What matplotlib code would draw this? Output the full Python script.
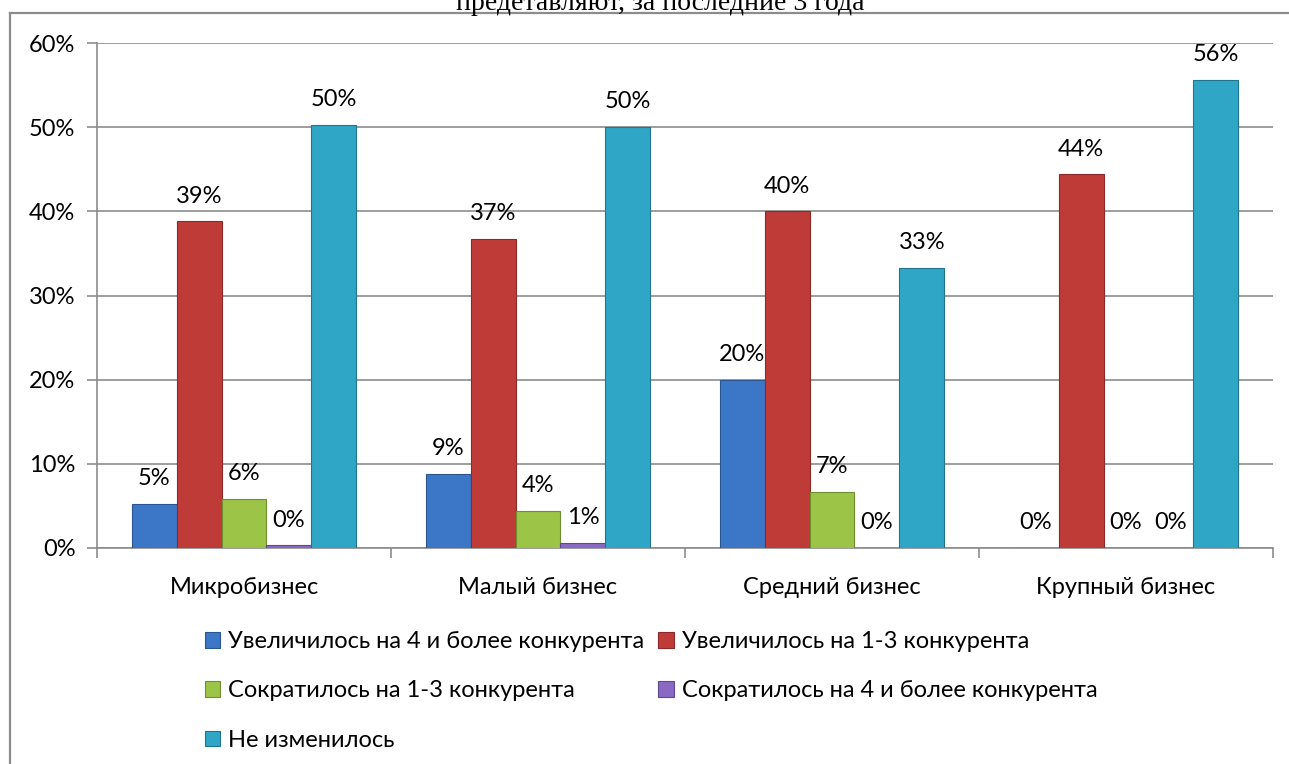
import matplotlib
matplotlib.use("Agg")
import matplotlib.pyplot as plt
import numpy as np
from matplotlib.patches import Rectangle
from matplotlib.lines import Line2D
from matplotlib.ticker import FuncFormatter, FixedLocator

categories = ["Микробизнес", "Малый бизнес", "Средний бизнес", "Крупный бизнес"]
series_names = [
    "Увеличилось на 4 и более конкурента",
    "Увеличилось на 1-3 конкурента",
    "Сократилось на 1-3 конкурента",
    "Сократилось на 4 и более конкурента",
    "Не изменилось",
]
inc4 = [5.2, 8.8, 20.0, 0.0]
inc13 = [38.8, 36.7, 40.0, 44.4]
dec13 = [5.8, 4.4, 6.7, 0.0]
dec4 = [0.3, 0.6, 0.0, 0.0]
nochange = [50.3, 50.0, 33.3, 55.6]
series_values = [inc4, inc13, dec13, dec4, nochange]
colors = ["#3C76C6", "#BF3B38", "#9CC547", "#8A69C4", "#2FA6C6"]
edges = ["#2A5590", "#8A2A28", "#6E8E30", "#5E4890", "#1F7590"]
title_text = "предетавляют, за последние 3 года"

plt.rcParams['font.family'] = ['Lato', 'DejaVu Sans']
FS = 17

fig = plt.figure(figsize=(12.89, 7.64), dpi=100)
W, H = 1289, 764
ax = fig.add_axes([97 / W, 1 - 548 / H, (1273 - 97) / W, (548 - 43) / H])

x = np.arange(len(categories))
bw = 0.153
n = len(series_values)
for i, (vals, c, ec) in enumerate(zip(series_values, colors, edges)):
    pos = x + (i - (n - 1) / 2) * bw
    bars = ax.bar(pos, vals, width=bw, color=c, edgecolor=ec, linewidth=0.8, zorder=3)
    for b, v in zip(bars, vals):
        ax.annotate(f"{round(v):.0f}%", (b.get_x() + b.get_width() / 2, v),
                    xytext=(0, 13.5), textcoords="offset points",
                    ha="center", va="baseline", fontsize=FS, color="black", zorder=4)

ax.set_xlim(-0.5, len(categories) - 0.5)
ax.set_ylim(0, 60)
ax.set_yticks(np.arange(0, 61, 10))
ax.yaxis.set_major_formatter(FuncFormatter(lambda v, p: f"{v:.0f}%"))
ax.grid(axis="y", color="#8c8c8c", linewidth=1.2, zorder=0)
ax.set_xticks(x)
ax.set_xticklabels(categories, fontsize=FS)
ax.xaxis.set_minor_locator(FixedLocator(np.arange(-0.5, len(categories), 1.0)))
ax.tick_params(axis="x", which="major", length=0, pad=21)
ax.tick_params(axis="x", which="minor", length=7, width=1.2, color="#8c8c8c", direction="out")
ax.tick_params(axis="y", length=7, width=1.2, color="#8c8c8c", pad=8.5, labelsize=FS)
for s in ["top", "right"]:
    ax.spines[s].set_visible(False)
for s in ["left", "bottom"]:
    ax.spines[s].set_color("#8c8c8c")
    ax.spines[s].set_linewidth(1.2)

# outer chart frame (partially visible)
fig.add_artist(Line2D([10 / W, 10 / W], [0, 1 - 13 / H], transform=fig.transFigure,
                      color="#8c8c8c", linewidth=1.6))
fig.add_artist(Line2D([10 / W, 1], [1 - 13 / H, 1 - 13 / H], transform=fig.transFigure,
                      color="#8c8c8c", linewidth=1.6))

fig.text(660 / W, 1 - 9.5 / H, title_text, ha="center", va="baseline",
         fontsize=20, family=["Liberation Serif", "DejaVu Serif"])

handles = [Rectangle((0, 0), 1, 1, facecolor=c, edgecolor=ec, linewidth=0.8)
           for c, ec in zip(colors, edges)]
order = [0, 2, 4, 1, 3]
fig.legend([handles[i] for i in order], [series_names[i] for i in order],
           loc="upper left", bbox_to_anchor=(205 / W, 1 - 631 / H), ncol=2,
           frameon=False, fontsize=FS, handlelength=0.64, handleheight=0.64,
           handletextpad=0.34, columnspacing=0.6, labelspacing=1.2, borderpad=0,
           borderaxespad=0)

fig.savefig("out.png", dpi=100)
